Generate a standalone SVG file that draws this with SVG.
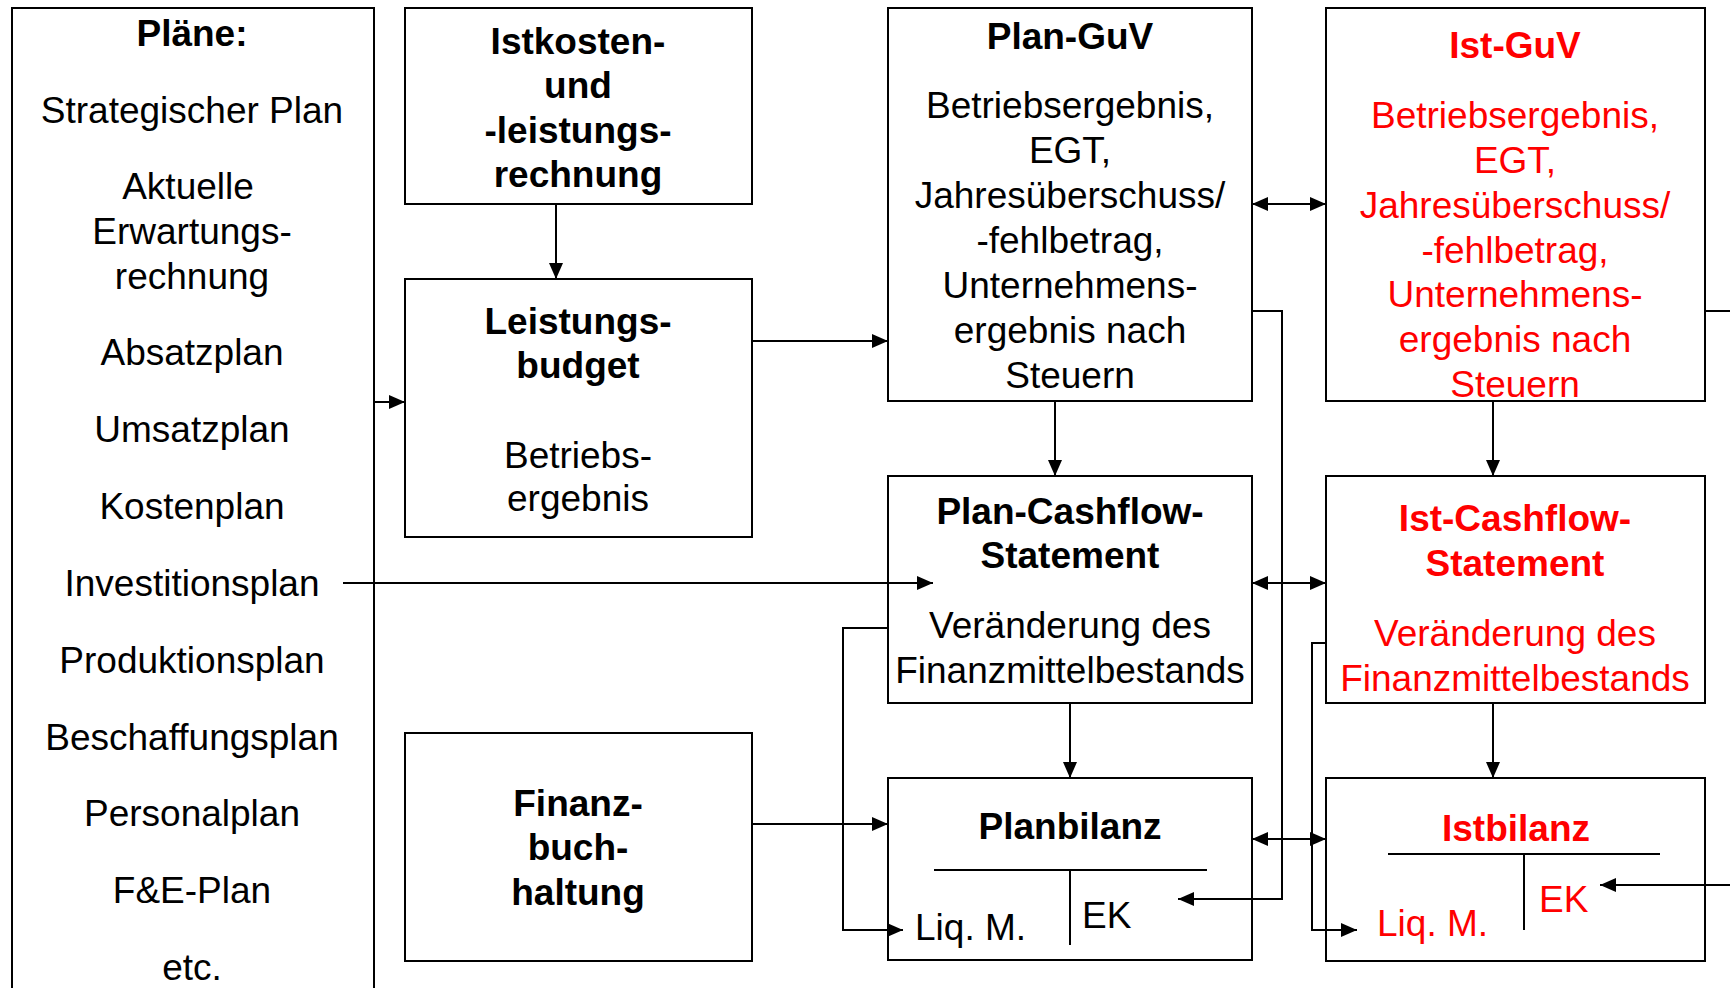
<svg xmlns="http://www.w3.org/2000/svg" width="1730" height="988" viewBox="0 0 1730 988">
<defs>
<marker id="ah" markerUnits="userSpaceOnUse" markerWidth="16" markerHeight="14" refX="16" refY="7" orient="auto-start-reverse" viewBox="0 0 16 14">
<path d="M0,0 L16,7 L0,14 z" fill="#000"/>
</marker>
<style>
.box{fill:#fff;stroke:#000;stroke-width:2}
.t{font-family:"Liberation Sans",Arial,sans-serif;font-size:37px;fill:#000;text-anchor:middle}
.b{font-weight:bold}
.r{fill:#ff0000}
.l{text-anchor:start}
.c{fill:none;stroke:#000;stroke-width:2}
.a{marker-end:url(#ah)}
.aa{marker-start:url(#ah);marker-end:url(#ah)}
</style>
</defs>
<rect width="1730" height="988" fill="#fff"/>

<g id="plaene">
<rect class="box" x="12" y="8" width="362" height="1000"/>
<text class="t b" x="192" y="46">Pläne:</text>
<text class="t" x="192" y="123">Strategischer Plan</text>
<text class="t" x="188" y="199">Aktuelle</text>
<text class="t" x="192" y="244">Erwartungs-</text>
<text class="t" x="192" y="289">rechnung</text>
<text class="t" x="192" y="365">Absatzplan</text>
<text class="t" x="192" y="442">Umsatzplan</text>
<text class="t" x="192" y="519">Kostenplan</text>
<text class="t" x="192" y="596">Investitionsplan</text>
<text class="t" x="192" y="673">Produktionsplan</text>
<text class="t" x="192" y="750">Beschaffungsplan</text>
<text class="t" x="192" y="826">Personalplan</text>
<text class="t" x="192" y="903">F&amp;E-Plan</text>
<text class="t" x="192" y="980">etc.</text>
</g>

<g id="istkosten">
<rect class="box" x="405" y="8" width="347" height="196"/>
<text class="t b" x="578" y="54">Istkosten-</text>
<text class="t b" x="578" y="98">und</text>
<text class="t b" x="578" y="143">-leistungs-</text>
<text class="t b" x="578" y="187">rechnung</text>
</g>

<g id="leistungsbudget">
<rect class="box" x="405" y="279" width="347" height="258"/>
<text class="t b" x="578" y="334">Leistungs-</text>
<text class="t b" x="578" y="378">budget</text>
<text class="t" x="578" y="468">Betriebs-</text>
<text class="t" x="578" y="511">ergebnis</text>
</g>

<g id="finanzbuchhaltung">
<rect class="box" x="405" y="733" width="347" height="228"/>
<text class="t b" x="578" y="816">Finanz-</text>
<text class="t b" x="578" y="860">buch-</text>
<text class="t b" x="578" y="905">haltung</text>
</g>

<g id="plan-guv">
<rect class="box" x="888" y="8" width="364" height="393"/>
<text class="t b" x="1070" y="49">Plan-GuV</text>
<text class="t" x="1070" y="118">Betriebsergebnis,</text>
<text class="t" x="1070" y="163">EGT,</text>
<text class="t" x="1070" y="208">Jahresüberschuss/</text>
<text class="t" x="1070" y="253">-fehlbetrag,</text>
<text class="t" x="1070" y="298">Unternehmens-</text>
<text class="t" x="1070" y="343">ergebnis nach</text>
<text class="t" x="1070" y="388">Steuern</text>
</g>

<g id="ist-guv">
<rect class="box" x="1326" y="8" width="379" height="393"/>
<text class="t b r" x="1515" y="58">Ist-GuV</text>
<text class="t r" x="1515" y="128">Betriebsergebnis,</text>
<text class="t r" x="1515" y="173">EGT,</text>
<text class="t r" x="1515" y="218">Jahresüberschuss/</text>
<text class="t r" x="1515" y="263">-fehlbetrag,</text>
<text class="t r" x="1515" y="307">Unternehmens-</text>
<text class="t r" x="1515" y="352">ergebnis nach</text>
<text class="t r" x="1515" y="397">Steuern</text>
</g>

<g id="plan-cashflow">
<rect class="box" x="888" y="476" width="364" height="227"/>
<text class="t b" x="1070" y="524">Plan-Cashflow-</text>
<text class="t b" x="1070" y="568">Statement</text>
<text class="t" x="1070" y="638">Veränderung des</text>
<text class="t" x="1070" y="683">Finanzmittelbestands</text>
</g>

<g id="ist-cashflow">
<rect class="box" x="1326" y="476" width="379" height="227"/>
<text class="t b r" x="1515" y="531">Ist-Cashflow-</text>
<text class="t b r" x="1515" y="576">Statement</text>
<text class="t r" x="1515" y="646">Veränderung des</text>
<text class="t r" x="1515" y="691">Finanzmittelbestands</text>
</g>

<g id="planbilanz">
<rect class="box" x="888" y="778" width="364" height="182"/>
<text class="t b" x="1070" y="839">Planbilanz</text>
<line class="c" x1="934" y1="870" x2="1207" y2="870"/>
<line class="c" x1="1070" y1="870" x2="1070" y2="945"/>
<text class="t l" x="915" y="940">Liq. M.</text>
<text class="t l" x="1082" y="928">EK</text>
</g>

<g id="istbilanz">
<rect class="box" x="1326" y="778" width="379" height="183"/>
<text class="t b r" x="1516" y="841">Istbilanz</text>
<line class="c" x1="1388" y1="854" x2="1660" y2="854"/>
<line class="c" x1="1524" y1="854" x2="1524" y2="930"/>
<text class="t r l" x="1377" y="936">Liq. M.</text>
<text class="t r l" x="1539" y="912">EK</text>
</g>

<g id="connectors">
<line class="c a" x1="556" y1="204" x2="556" y2="279"/>
<line class="c a" x1="374" y1="402" x2="405" y2="402"/>
<line class="c a" x1="752" y1="341" x2="888" y2="341"/>
<line class="c aa" x1="1252" y1="204" x2="1326" y2="204"/>
<line class="c a" x1="1055" y1="401" x2="1055" y2="476"/>
<line class="c a" x1="1493" y1="401" x2="1493" y2="476"/>
<line class="c a" x1="343" y1="583" x2="933" y2="583"/>
<line class="c aa" x1="1252" y1="583" x2="1326" y2="583"/>
<line class="c a" x1="1070" y1="703" x2="1070" y2="778"/>
<line class="c a" x1="1493" y1="703" x2="1493" y2="778"/>
<line class="c a" x1="752" y1="824" x2="888" y2="824"/>
<line class="c aa" x1="1252" y1="839" x2="1326" y2="839"/>
<path class="c a" d="M888,628 H843 V930 H903"/>
<path class="c a" d="M1252,311 H1282 V899 H1178"/>
<path class="c a" d="M1326,643 H1312 V930 H1357"/>
<path class="c" d="M1705,311 H1730"/>
<path class="c a" d="M1730,885 H1600"/>
</g>
</svg>
